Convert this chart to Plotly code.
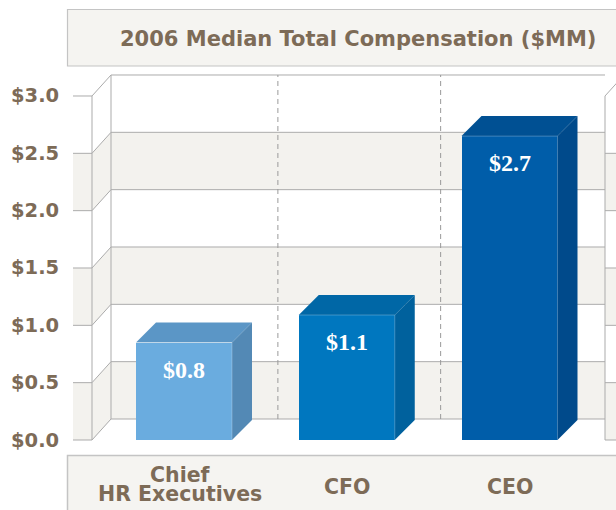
import plotly.graph_objects as go

# ---------------- data ----------------
categories = ["Chief HR Executives", "CFO", "CEO"]
cat_line1 = ["Chief", "", ""]
cat_line2 = ["HR Executives", "CFO", "CEO"]
values = [0.85, 1.09, 2.65]
value_labels = ["$0.8", "$1.1", "$2.7"]
tick_values = [0.0, 0.5, 1.0, 1.5, 2.0, 2.5, 3.0]
tick_labels = ["$0.0", "$0.5", "$1.0", "$1.5", "$2.0", "$2.5", "$3.0"]
title_text = "2006 Median Total Compensation ($MM)"

front_colors = ["#6AACDF", "#0077BF", "#005DA9"]
top_colors = ["#5B96C6", "#0067A6", "#005093"]
side_colors = ["#5389B5", "#00619D", "#004A8B"]

BROWN = "#7D6B57"
SHADE = "#F3F2EE"
GRID = "#ABABAB"
BOXFILL = "#F5F4F1"
BOXLINE = "#C4C4C4"

# ---------------- geometry (pixel <-> data) ----------------
W, H = 616, 510
X0, XS = 184.0, 162.75   # pixel of category 0, pixels per category
Y0, YS = 440.0, 114.67   # pixel of value 0, pixels per value unit


def xu(px):
    return (px - X0) / XS


def yu(py):
    return (Y0 - py) / YS


def pxp(px):
    return px / W


def pyp(py):
    return 1 - py / H


WDX, WDY = 19 / XS, 21 / YS      # wall depth
BDX, BDY = 20 / XS, 20 / YS      # bar depth
BW = 96 / XS                     # bar width

x_tick = xu(73)
x_lf = xu(92)
x_lb = x_lf + WDX
x_right = xu(605)
x_far = xu(630)

shapes = []

# bands
for i in range(len(tick_values) - 1):
    a, b = tick_values[i], tick_values[i + 1]
    fill = SHADE if i % 2 == 0 else "white"
    shapes.append(dict(type="rect", xref="x", yref="y", x0=x_lb, x1=x_right,
                       y0=a + WDY, y1=b + WDY, fillcolor=fill, line=dict(width=0), layer="below"))
    shapes.append(dict(type="path", xref="x", yref="y",
                       path=f"M {x_lf},{a} L {x_lb},{a + WDY} L {x_lb},{b + WDY} L {x_lf},{b} Z",
                       fillcolor=fill, line=dict(width=0), layer="below"))
    shapes.append(dict(type="rect", xref="x", yref="y", x0=x_tick, x1=x_lf,
                       y0=a, y1=b, fillcolor=fill, line=dict(width=0), layer="below"))
    shapes.append(dict(type="rect", xref="x", yref="y", x0=x_right, x1=x_far,
                       y0=a, y1=b, fillcolor=fill, line=dict(width=0), layer="below"))

gl = dict(color=GRID, width=1)
for v in tick_values:
    shapes.append(dict(type="line", xref="x", yref="y", x0=x_tick, x1=x_lf, y0=v, y1=v,
                       line=gl, layer="below"))
    shapes.append(dict(type="line", xref="x", yref="y", x0=x_lf, x1=x_lb, y0=v, y1=v + WDY,
                       line=gl, layer="below"))
    shapes.append(dict(type="line", xref="x", yref="y", x0=x_lb, x1=x_right, y0=v + WDY, y1=v + WDY,
                       line=gl, layer="below"))
    if v < tick_values[-1]:
        shapes.append(dict(type="line", xref="x", yref="y", x0=x_right, x1=x_far, y0=v, y1=v,
                           line=gl, layer="below"))

top_v = tick_values[-1]
shapes.append(dict(type="line", xref="x", yref="y", x0=x_lf, x1=x_lf, y0=0, y1=top_v, line=gl, layer="below"))
shapes.append(dict(type="line", xref="x", yref="y", x0=x_lb, x1=x_lb, y0=WDY, y1=top_v + WDY, line=gl, layer="below"))
shapes.append(dict(type="line", xref="x", yref="y", x0=x_right, x1=x_right, y0=0, y1=top_v, line=gl, layer="below"))
shapes.append(dict(type="line", xref="x", yref="y", x0=x_right, x1=x_right + WDX, y0=top_v, y1=top_v + WDY,
                   line=gl, layer="below"))

# dashed category separators on the back wall
for i in range(len(categories) - 1):
    xd = i + 0.5 + 12.5 / XS
    shapes.append(dict(type="line", xref="x", yref="y", x0=xd, x1=xd, y0=WDY, y1=top_v + WDY,
                       line=dict(color="#9A9A9A", width=1, dash="5px,4px"), layer="below"))

# title box and category box
shapes.append(dict(type="rect", xref="paper", yref="paper", x0=pxp(67.5), x1=pxp(640),
                   y0=pyp(66), y1=pyp(9.5), fillcolor=BOXFILL, line=dict(color=BOXLINE, width=1.2),
                   layer="below"))
shapes.append(dict(type="rect", xref="paper", yref="paper", x0=pxp(67.5), x1=pxp(640),
                   y0=pyp(530), y1=pyp(455.5), fillcolor=BOXFILL, line=dict(color=BOXLINE, width=1.5),
                   layer="below"))

fig = go.Figure()

xs = list(range(len(categories)))
fig.add_trace(go.Bar(x=xs, y=values, width=BW, marker=dict(color=front_colors, line=dict(width=0)),
                     hoverinfo="skip", showlegend=False))

for i, v in enumerate(values):
    l, r = i - BW / 2, i + BW / 2
    fig.add_trace(go.Scatter(x=[l, l + BDX, r + BDX, r, l], y=[v, v + BDY, v + BDY, v, v],
                             fill="toself", fillcolor=top_colors[i], mode="lines",
                             line=dict(width=0, color=top_colors[i]), hoverinfo="skip", showlegend=False))
    fig.add_trace(go.Scatter(x=[r, r, r + BDX, r + BDX, r], y=[0, v, v + BDY, BDY, 0],
                             fill="toself", fillcolor=side_colors[i], mode="lines",
                             line=dict(width=0, color=side_colors[i]), hoverinfo="skip", showlegend=False))
    fig.add_trace(go.Scatter(x=[l, r, r], y=[v, v, 0], mode="lines",
                             line=dict(width=1, color="rgba(255,255,255,0.25)"),
                             hoverinfo="skip", showlegend=False))

annotations = []
SANS = "DejaVu Sans"
annotations.append(dict(xref="paper", yref="paper", x=pxp(358), y=pyp(39), text=title_text,
                        showarrow=False, xanchor="center", yanchor="middle",
                        font=dict(family=SANS, size=21, color=BROWN, weight=700)))
for v, t in zip(tick_values, tick_labels):
    annotations.append(dict(xref="paper", yref="y", x=pxp(61), y=v, text=t, showarrow=False,
                            xanchor="right", yanchor="middle",
                            font=dict(family=SANS, size=19.5, color=BROWN, weight=700)))
for i in xs:
    if cat_line1[i]:
        annotations.append(dict(xref="x", yref="paper", x=i - 4 / XS, y=pyp(474.5), text=cat_line1[i],
                                showarrow=False, xanchor="center", yanchor="middle",
                                font=dict(family=SANS, size=20.5, color=BROWN, weight=700)))
        annotations.append(dict(xref="x", yref="paper", x=i - 4 / XS, y=pyp(494), text=cat_line2[i],
                                showarrow=False, xanchor="center", yanchor="middle",
                                font=dict(family=SANS, size=20.5, color=BROWN, weight=700)))
    else:
        annotations.append(dict(xref="x", yref="paper", x=i, y=pyp(487), text=cat_line2[i],
                                showarrow=False, xanchor="center", yanchor="middle",
                                font=dict(family=SANS, size=20.5, color=BROWN, weight=700)))
for i, v in enumerate(values):
    annotations.append(dict(xref="x", yref="y", x=i, y=v, yshift=-27, text=value_labels[i],
                            showarrow=False, xanchor="center", yanchor="middle",
                            font=dict(family="Liberation Serif", size=24, color="white", weight=700)))

fig.update_layout(
    width=W, height=H,
    margin=dict(l=0, r=0, t=0, b=0),
    paper_bgcolor="white", plot_bgcolor="white",
    xaxis=dict(range=[xu(0), xu(W)], visible=False, fixedrange=True),
    yaxis=dict(range=[yu(H), yu(0)], visible=False, fixedrange=True),
    shapes=shapes, annotations=annotations, bargap=0, showlegend=False,
)

fig.write_html("out.html", config={"displayModeBar": False},
               post_script="document.body.style.margin='0';document.body.style.overflow='hidden';")
